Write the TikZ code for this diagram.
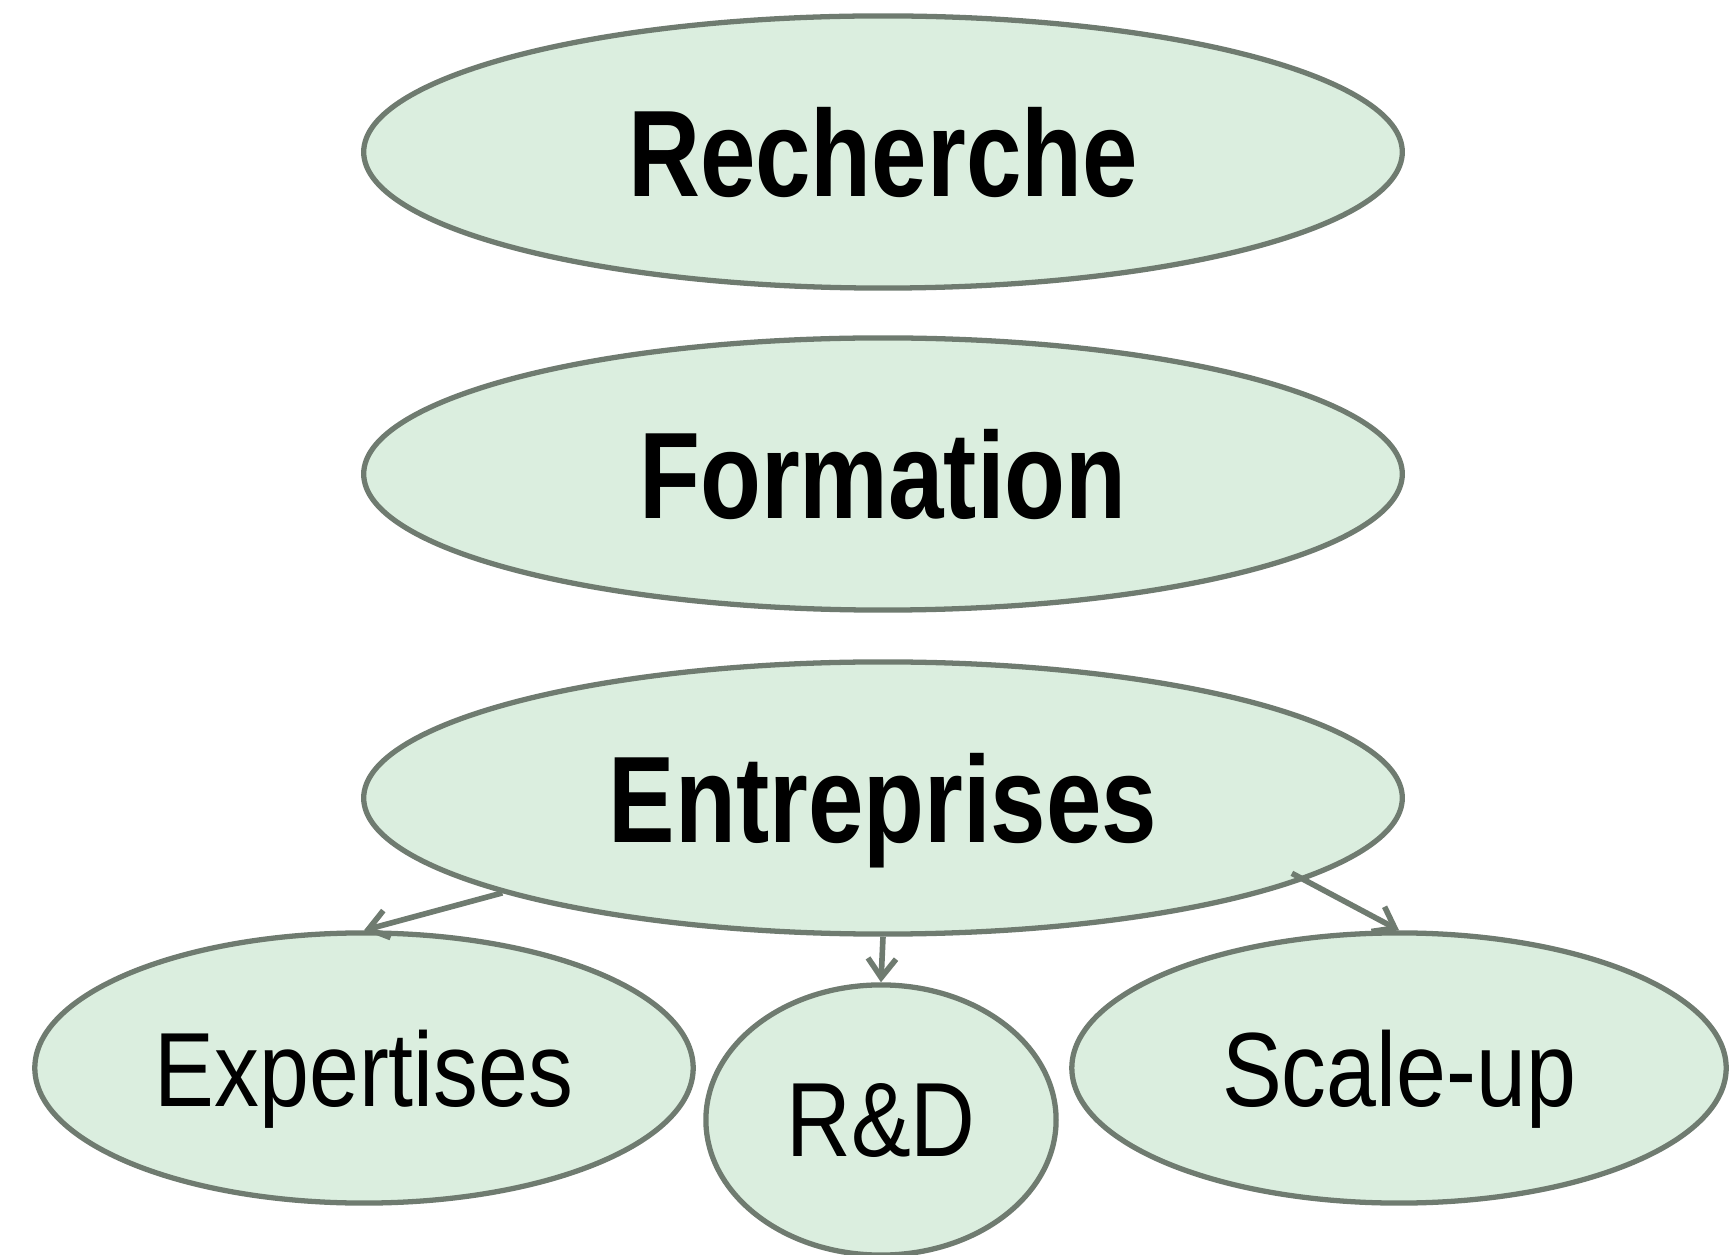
\documentclass[tikz,border=0pt]{standalone}
\usepackage{fontspec}
\setmainfont{Liberation Sans}
\newfontfamily\bignarrow[FakeStretch=0.81]{Liberation Sans}
\newfontfamily\smallnarrow[FakeStretch=0.85]{Liberation Sans}
\usetikzlibrary{shapes.geometric,arrows.meta}
\definecolor{bubblefill}{HTML}{DBEEDF}
\definecolor{bubbleedge}{HTML}{6F7B70}
\tikzset{
	bubble/.style={ellipse, draw=bubbleedge, fill=bubblefill, line width=1.5pt, inner sep=0pt, text depth=0pt},
	bigbubble/.style={bubble, minimum width=10.38cm, minimum height=2.72cm, font=\bignarrow\bfseries\fontsize{35}{40}\selectfont},
	smallbubble/.style={bubble, minimum height=2.7cm, font=\smallnarrow\fontsize{30}{34}\selectfont},
	link/.style={draw=bubbleedge, line width=1.6pt, -{Straight Barb[length=1.9mm,width=2.8mm]}}
}
\begin{document}
\begin{tikzpicture}[x=0.01cm,y=0.01cm]
			\useasboundingbox (0,0) rectangle (1730,1254);
			
			\node[bigbubble] (rech) at (883,1102) {Recherche};
			\node[bigbubble] (form) at (883,780) {Formation};
			\node[bigbubble] (entr) at (883,456) {Entreprises};
			
			\node[smallbubble, minimum width=6.58cm] (expe) at (364,186) {Expertises};
			\node[smallbubble, minimum width=3.5cm] (rnd) at (881,134) {R\&D};
			\node[smallbubble, minimum width=6.54cm] (scal) at (1399,186) {Scale-up};
			
			\draw[link] (entr.194) -- (expe.north);
			\draw[link] (entr.south) -- (rnd.north);
			\draw[link, shorten <=-0.14cm] (entr.349) -- (scal.north);
			
		\end{tikzpicture}
\end{document}
